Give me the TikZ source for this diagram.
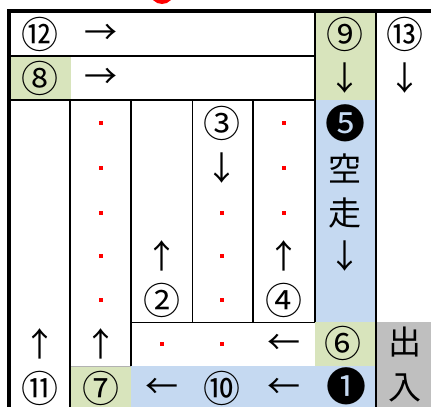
\documentclass[tikz,border=0pt]{standalone}
\usepackage{fontspec}
\newfontfamily\jp{Noto Sans CJK JP}
\definecolor{cgreen}{RGB}{216,228,188}
\definecolor{cblue}{RGB}{197,217,241}
\definecolor{cgray}{RGB}{191,191,191}
\begin{document}
\begin{tikzpicture}[x=1pt,y=-1pt,
  circ/.style={font=\jp\fontsize{37}{37}\selectfont, inner sep=0pt, anchor=center},
  negcirc/.style={font=\jp\fontsize{40}{40}\selectfont, inner sep=0pt, anchor=center},
  arr/.style={font=\jp\fontsize{33}{33}\selectfont, inner sep=0pt, anchor=center},
  kanji/.style={font=\jp\fontsize{33}{33}\selectfont, inner sep=0pt, anchor=center},
  reddot/.style={fill=red, minimum size=4.5pt, inner sep=0pt, draw=none},
  thickline/.style={line width=2pt},
  thinline/.style={line width=1pt},
  border/.style={line width=3.5pt}]
\useasboundingbox (0,0) rectangle (431,407);
\clip (0,0) rectangle (431,407);
% red mark at top
\fill[red] (162,-8) circle (12);
% fills
\fill[cgreen] (10,56) rectangle (71,100);
\fill[cgreen] (315,12) rectangle (376,100);
\fill[cgreen] (70,366) rectangle (131,407);
\fill[cgreen] (315,322) rectangle (376,366);
\fill[cblue] (315,100) rectangle (376,322);
\fill[cblue] (131,366) rectangle (376,407);
\fill[cgray] (377,322) rectangle (431,407);
% grid
\draw[line width=1.3pt] (10,56) -- (315,56);
\draw[line width=1.3pt] (10,100) -- (315,100);
\draw[thinline] (131,322) -- (315,322);
\draw[line width=0.5pt, gray!60] (70,366) -- (131,366);
\draw[thickline] (70,100) -- (70,407);
\draw[thickline] (131,100) -- (131,366);
\draw[thinline] (192,100) -- (192,322);
\draw[thickline] (253,100) -- (253,322);
\draw[thickline] (315,12) -- (315,322);
\draw[line width=2.5pt] (376,12) -- (376,407);
\draw[border] (9,11) -- (431,11);
\draw[border] (9,9.25) -- (9,407);
% top rows
\node[circ] (n12) at (40,34) {⑫};
\node[arr] (a12) at (101,34) {→};
\node[circ] (n8) at (40,78) {⑧};
\node[arr] (a8) at (101,78) {→};
\node[circ] (n9) at (345,34) {⑨};
\node[arr] (a9) at (345,78) {↓};
\node[circ] (n13) at (405,34) {⑬};
\node[arr] (a13) at (405,78) {↓};
% column 2 dots
\foreach \y [count=\i] in {123,168,213,256,300} {
  \node[reddot] (da\i) at (101,\y) {};
}
% column 3
\node[arr] (a2) at (162,256) {↑};
\node[circ] (n2) at (162,300) {②};
% column 4
\node[circ] (n3) at (222,123) {③};
\node[arr] (a3) at (222,168) {↓};
\foreach \y [count=\i] in {213,256,300} {
  \node[reddot] (db\i) at (222,\y) {};
}
% column 5
\foreach \y [count=\i] in {123,168,213} {
  \node[reddot] (dc\i) at (284,\y) {};
}
\node[arr] (a4) at (284,256) {↑};
\node[circ] (n4) at (284,300) {④};
% blue column
\node[negcirc] (n5) at (345,123) {❺};
\node[kanji] (k1) at (345,168) {空};
\node[kanji] (k2) at (345,213) {走};
\node[arr] (a5) at (345,256) {↓};
% row 322-366
\node[reddot] (dd1) at (162,344) {};
\node[reddot] (dd2) at (222,344) {};
\node[arr] (a6) at (284,344) {←};
\node[circ] (n6) at (343,343) {⑥};
\node[arr] (a11) at (40,344) {↑};
\node[arr] (a7) at (101,344) {↑};
% bottom row
\node[circ] (n11) at (40,388) {⑪};
\node[circ] (n7) at (101,388) {⑦};
\node[arr] (a10) at (162,388) {←};
\node[circ] (n10) at (222,388) {⑩};
\node[arr] (a1) at (284,388) {←};
\node[negcirc] (n1) at (346,386.5) {❶};
\node[kanji] (k3) at (405,342) {出};
\node[kanji] (k4) at (405,388) {入};
\end{tikzpicture}
\end{document}
